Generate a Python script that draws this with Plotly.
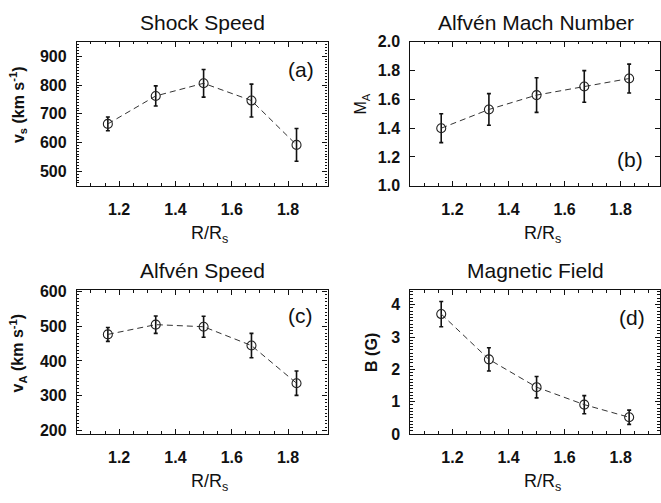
import plotly.graph_objects as go

W, H = 661, 503

# Heliocentric distance of the five measurements
r_pos = [1.16, 1.33, 1.50, 1.67, 1.83]

# (a) shock speed, km/s
shock_speed = [665, 762, 806, 746, 592]
shock_speed_err = [24, 35, 48, 57, 57]

# (b) Alfven Mach number
mach = [1.40, 1.53, 1.63, 1.69, 1.745]
mach_err = [0.10, 0.11, 0.12, 0.11, 0.10]

# (c) Alfven speed, km/s
alfven_speed = [476, 504, 498, 444, 336]
alfven_speed_err = [20, 25, 30, 35, 35]

# (d) magnetic field, G
b_field = [3.71, 2.31, 1.45, 0.91, 0.52]
b_field_err = [0.39, 0.36, 0.33, 0.28, 0.22]

panel_titles = ["Shock Speed", "Alfvén Mach Number", "Alfvén Speed", "Magnetic Field"]
panel_tags = ["(a)", "(b)", "(c)", "(d)"]
y_titles = ["v<sub>s</sub> (km s<sup>-1</sup>)", "M<sub>A</sub>",
            "v<sub>A</sub> (km s<sup>-1</sup>)", "B (G)"]
y_title_weight = ["bold", "normal", "bold", "bold"]
x_title = "R/R<sub>s</sub>"

FONT = "Liberation Sans, Arial, Helvetica, sans-serif"
INK = "#111111"

# Pixel boxes of the four plot areas (left, top, right, bottom)
boxes = [(77, 35, 328, 184), (411, 35, 661, 184),
         (77, 292, 328, 441), (411, 292, 661, 441)]

y_ranges = [[450, 950], [1.0, 2.0], [190, 603], [0, 4.45]]
y_dticks = [100, 0.2, 100, 1]
y_minor = [10, None, 10, 0.1]

series = [(shock_speed, shock_speed_err), (mach, mach_err),
          (alfven_speed, alfven_speed_err), (b_field, b_field_err)]

fig = go.Figure()


def px_x(px):
    return px / W


def px_y(py):
    return 1 - py / H


for i, ((vals, errs), box) in enumerate(zip(series, boxes)):
    n = "" if i == 0 else str(i + 1)
    fig.add_trace(go.Scatter(
        x=r_pos, y=vals,
        xaxis="x" + n, yaxis="y" + n,
        mode="lines+markers",
        line=dict(color="#333333", width=1, dash="6px,4px"),
        marker=dict(symbol="circle-open", size=9, color="#222222",
                    line=dict(width=1.1, color="#222222")),
        error_y=dict(type="data", array=errs, visible=True,
                     color=INK, thickness=1.6, width=2),
        showlegend=False,
    ))

    l, t, r, b = box
    axis_common = dict(
        showline=True, linecolor=INK, linewidth=1.2, mirror="ticks",
        ticks="inside", ticklen=5, tickwidth=1, tickcolor=INK,
        showgrid=False, zeroline=False,
        tickfont=dict(family=FONT, size=16, color=INK, weight="bold"),
    )
    xa = dict(axis_common,
              domain=[px_x(l), min(px_x(r), 1.0)],
              range=[1.05, 1.94], tick0=1.2, dtick=0.2, tickformat=".1f",
              anchor="y" + n, ticklabelstandoff=9,
              minor=dict(ticks="inside", ticklen=2.5, dtick=0.05, tick0=1.2,
                         tickcolor=INK, showgrid=False))
    ya = dict(axis_common,
              domain=[px_y(b), px_y(t)],
              range=y_ranges[i], tick0=0, dtick=y_dticks[i],
              anchor="x" + n, ticklabelstandoff=6)
    if i == 1:
        ya["tickformat"] = ".1f"
    if y_minor[i] is not None:
        ya["minor"] = dict(ticks="inside", ticklen=2.5, dtick=y_minor[i],
                           tick0=0, tickcolor=INK, showgrid=False)
    fig.update_layout({"xaxis" + n: xa, "yaxis" + n: ya})

annotations = []
title_y = [15, 15, 272, 272]
ytitle_x = [18, 362, 18, 372]
tag_pos = [(301, 64), (631, 157), (301, 318), (633, 320)]
for i, box in enumerate(boxes):
    l, t, r, b = box
    cx = (l + (662 if r == 661 else r)) / 2
    annotations.append(dict(
        text=panel_titles[i], x=px_x(cx), y=px_y(title_y[i]),
        xref="paper", yref="paper", xanchor="center", yanchor="middle",
        showarrow=False, font=dict(family=FONT, size=21, color=INK)))
    annotations.append(dict(
        text=x_title, x=px_x(cx + 7), y=px_y(b + 50),
        xref="paper", yref="paper", xanchor="center", yanchor="middle",
        showarrow=False, font=dict(family=FONT, size=18, color=INK)))
    annotations.append(dict(
        text=y_titles[i], x=px_x(ytitle_x[i]), y=px_y((t + b) / 2 - 10),
        xref="paper", yref="paper", xanchor="center", yanchor="middle",
        textangle=-90, showarrow=False,
        font=dict(family=FONT, size=16, color=INK, weight=y_title_weight[i])))
    annotations.append(dict(
        text=panel_tags[i], x=px_x(tag_pos[i][0]), y=px_y(tag_pos[i][1]),
        xref="paper", yref="paper", xanchor="center", yanchor="middle",
        showarrow=False, font=dict(family=FONT, size=21, color=INK)))

fig.update_layout(
    width=W, height=H,
    margin=dict(l=0, r=0, t=0, b=0),
    paper_bgcolor="white", plot_bgcolor="white",
    annotations=annotations,
    showlegend=False,
)

fig.write_html("out.html")
